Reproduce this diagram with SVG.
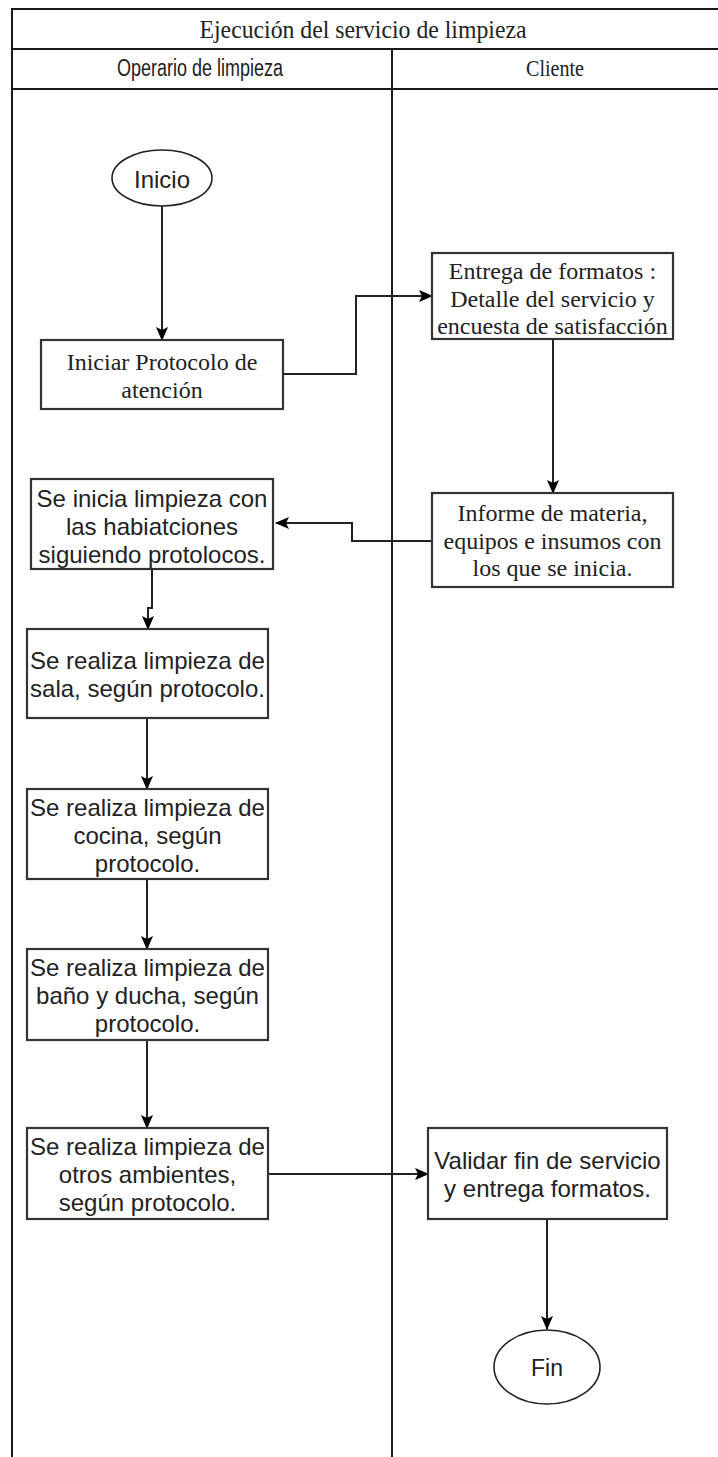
<svg xmlns="http://www.w3.org/2000/svg" width="718" height="1457" viewBox="0 0 718 1457">
<style>
.frame{stroke:#1a1a1a;stroke-width:2;fill:none}
.box{fill:#fff;stroke:#333;stroke-width:2.2}
.term{fill:#fff;stroke:#222;stroke-width:1.6}
.conn{fill:none;stroke:#222;stroke-width:2}
.serif{font-family:"Liberation Serif","Times New Roman",serif;fill:#222;text-anchor:middle;dominant-baseline:central}
.sans{font-family:"Liberation Sans",Arial,sans-serif;fill:#222;text-anchor:middle;dominant-baseline:central}
</style>
<defs>
<marker id="arr" markerUnits="userSpaceOnUse" markerWidth="14" markerHeight="14" viewBox="0 0 14 14" refX="13" refY="7" orient="auto">
<path d="M0,1 L14,7 L0,13 L3,7 z" fill="#000"/>
</marker>
</defs>
<rect width="718" height="1457" fill="#fff"/>
<g id="pool">
<line class="frame" x1="12" y1="9" x2="718" y2="9"/>
<line class="frame" x1="12" y1="49" x2="718" y2="49"/>
<line class="frame" x1="12" y1="89" x2="718" y2="89"/>
<line class="frame" x1="12" y1="8" x2="12" y2="1457"/>
<line class="frame" x1="392" y1="49" x2="392" y2="1457"/>
<text class="serif" x="363" y="29" font-size="26" textLength="327" lengthAdjust="spacingAndGlyphs">Ejecución del servicio de limpieza</text>
<text class="sans" x="200" y="68" font-size="23" textLength="166" lengthAdjust="spacingAndGlyphs">Operario de limpieza</text>
<text class="serif" x="555" y="68" font-size="24" textLength="58" lengthAdjust="spacingAndGlyphs">Cliente</text>
</g>
<g id="connectors">
<path class="conn" d="M162,206 L162,340" marker-end="url(#arr)"/>
<path class="conn" d="M283,374 L356,374 L356,296 L432,296" marker-end="url(#arr)"/>
<path class="conn" d="M553,339 L553,493" marker-end="url(#arr)"/>
<path class="conn" d="M432,541 L352,541 L352,523 L276,523" marker-end="url(#arr)"/>
<path class="conn" d="M152,569 L152,608 L148,608 L148,629" marker-end="url(#arr)"/>
<path class="conn" d="M147,718 L147,789" marker-end="url(#arr)"/>
<path class="conn" d="M147,879 L147,949" marker-end="url(#arr)"/>
<path class="conn" d="M147,1040 L147,1128" marker-end="url(#arr)"/>
<path class="conn" d="M268,1174 L428,1174" marker-end="url(#arr)"/>
<path class="conn" d="M547,1219 L547,1329" marker-end="url(#arr)"/>
</g>
<g id="inicio">
<ellipse class="term" cx="162" cy="178" rx="50" ry="28"/>
<text class="sans" x="162" y="179" font-size="24">Inicio</text>
</g>
<g id="iniciar-protocolo">
<rect class="box" x="41" y="340" width="242" height="69"/>
<text class="serif" font-size="24"><tspan x="162" y="362">Iniciar Protocolo de</tspan><tspan x="162" y="390">atención</tspan></text>
</g>
<g id="entrega-formatos">
<rect class="box" x="432" y="253" width="241" height="86"/>
<text class="serif" font-size="24"><tspan x="552.5" y="271">Entrega de formatos :</tspan><tspan x="552.5" y="299">Detalle del servicio y</tspan><tspan x="552.5" y="326">encuesta de satisfacción</tspan></text>
</g>
<g id="informe">
<rect class="box" x="432" y="493" width="241" height="94"/>
<text class="serif" font-size="24"><tspan x="552.5" y="513">Informe de materia,</tspan><tspan x="552.5" y="541">equipos e insumos con</tspan><tspan x="552.5" y="568">los que se inicia.</tspan></text>
</g>
<g id="inicia-limpieza">
<rect class="box" x="31" y="479" width="242" height="90"/>
<text class="sans" font-size="24"><tspan x="152" y="498">Se inicia limpieza con</tspan><tspan x="152" y="526">las habiatciones</tspan><tspan x="152" y="554">siguiendo protolocos.</tspan></text>
</g>
<g id="sala">
<rect class="box" x="27" y="629" width="241" height="89"/>
<text class="sans" font-size="24"><tspan x="147.5" y="660">Se realiza limpieza de</tspan><tspan x="147.5" y="688">sala, según protocolo.</tspan></text>
</g>
<g id="cocina">
<rect class="box" x="27" y="789" width="241" height="90"/>
<text class="sans" font-size="24"><tspan x="147.5" y="807">Se realiza limpieza de</tspan><tspan x="147.5" y="835">cocina, según</tspan><tspan x="147.5" y="863">protocolo.</tspan></text>
</g>
<g id="bano">
<rect class="box" x="27" y="949" width="241" height="91"/>
<text class="sans" font-size="24"><tspan x="147.5" y="967">Se realiza limpieza de</tspan><tspan x="147.5" y="995">baño y ducha, según</tspan><tspan x="147.5" y="1023">protocolo.</tspan></text>
</g>
<g id="otros">
<rect class="box" x="27" y="1128" width="241" height="91"/>
<text class="sans" font-size="24"><tspan x="147.5" y="1146">Se realiza limpieza de</tspan><tspan x="147.5" y="1174">otros ambientes,</tspan><tspan x="147.5" y="1202">según protocolo.</tspan></text>
</g>
<g id="validar">
<rect class="box" x="428" y="1128" width="239" height="91"/>
<text class="sans" font-size="24"><tspan x="547.5" y="1160">Validar fin de servicio</tspan><tspan x="547.5" y="1188">y entrega formatos.</tspan></text>
</g>
<g id="fin">
<ellipse class="term" cx="547" cy="1367" rx="53" ry="37"/>
<text class="sans" x="547" y="1368" font-size="23">Fin</text>
</g>
</svg>
